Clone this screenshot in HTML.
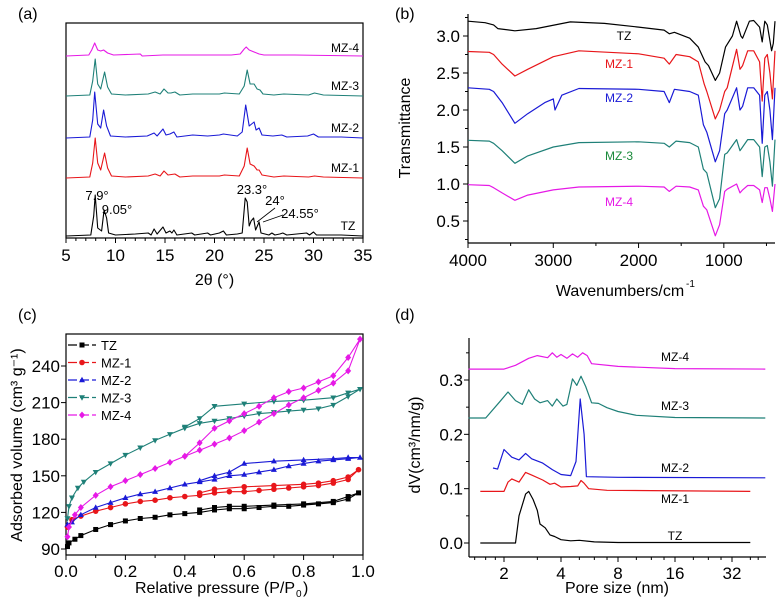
<!DOCTYPE html>
<html><head><meta charset="utf-8"><style>
html,body{margin:0;padding:0;background:#fff}
svg{display:block;font-family:"Liberation Sans",Arial,sans-serif}
</style></head><body>
<svg id="fig" width="778" height="603" viewBox="0 0 778 603"></svg>
<script>
// ---------- DATA ----------
// (a) XRD, intensities in offset units above each baseline
const xrdNames = ["TZ","MZ-1","MZ-2","MZ-3","MZ-4"];
const xrdTZ = [[5,0],[7.5,1],[7.8,20],[7.95,41],[8.2,8],[8.6,5],[8.85,26],[9.1,18],[9.3,3],[10,1],[12,2],[13.3,3],[13.6,1],[13.9,7],[14.2,2],[14.8,9],[15.1,3],[15.5,5],[15.7,3],[15.9,6],[16.2,1],[17.7,3],[18,1],[19.3,3],[19.6,1],[20.5,3],[20.9,5],[21.2,1],[22.3,2],[22.8,3],[23.1,38],[23.3,34],[23.5,10],[23.7,15],[23.95,18],[24.15,6],[24.5,14],[24.7,3],[25.5,1],[25.8,3],[26.1,1],[26.6,2],[26.9,3],[27.3,1],[29.3,3],[29.6,1],[30,4],[30.3,1],[32.8,1],[35,0]];
const xrdMZ1 = [[5,0],[7.4,1],[7.7,15],[7.95,40],[8.2,15],[8.5,8],[8.9,25],[9.2,10],[9.6,2],[11,1],[13.3,2],[14,4],[14.5,2],[14.9,7],[15.3,3],[16,4],[16.5,1],[17.8,2],[20.5,2],[21,3],[22.5,2],[23,12],[23.3,30],[23.6,14],[24,12],[24.3,8],[24.5,8],[24.8,3],[26,1],[27,2],[29.5,1],[30.1,2],[31,1],[35,0]];
const xrdMZ2 = [[5,0],[7.4,1],[7.7,18],[7.9,46],[8.2,14],[8.5,10],[8.8,28],[9.1,12],[9.5,2],[11,1],[13.2,2],[13.9,5],[14.2,2],[14.8,9],[15.1,3],[15.5,4],[15.9,6],[16.2,1],[17.8,3],[19.3,2],[20.5,3],[20.9,4],[22.3,2],[22.8,6],[23.15,33],[23.5,12],[24,16],[24.2,8],[24.5,10],[24.8,3],[25.9,2],[26.8,3],[27.3,1],[29.4,2],[30,4],[30.5,1],[32.8,1],[35,0]];
const xrdMZ3 = [[5,0],[7.4,1],[7.7,15],[7.95,37],[8.2,12],[8.5,7],[8.9,24],[9.2,9],[9.6,2],[11,1],[13.3,2],[14,4],[14.5,2],[14.9,7],[15.3,3],[15.6,3],[16,4],[16.5,1],[17.8,2],[20.5,2],[21,3],[22.5,2],[23,10],[23.3,26],[23.6,12],[24,12],[24.3,7],[24.6,6],[24.9,2],[26,1],[27,2],[29.5,1],[30.1,3],[31,1],[35,0]];
const xrdMZ4 = [[5,0],[7.3,1],[7.6,6],[7.9,13],[8.2,6],[8.5,5],[8.8,6],[9.2,3],[9.8,1],[12.5,2],[12.7,0],[14.8,1],[16,1],[21.7,1],[22.6,2],[23,7],[23.2,9],[23.5,6],[24,4],[24.5,2],[25,1],[28.1,1],[35,0]];
const xrdSeries = [xrdTZ,xrdMZ1,xrdMZ2,xrdMZ3,xrdMZ4];
const xrdOffsets = [0,58,98,140,180];
const xrdTicks = [5,10,15,20,25,30,35];

// (b) FTIR
const ftNames = ["TZ","MZ-1","MZ-2","MZ-3","MZ-4"];
const ftTZ = [[4000,3.2],[3800,3.18],[3700,3.15],[3650,3.1],[3450,3.07],[3200,3.1],[2800,3.19],[2400,3.17],[2000,3.12],[1700,3.08],[1640,3.03],[1580,3.05],[1400,2.97],[1300,2.85],[1220,2.65],[1180,2.6],[1100,2.4],[1050,2.5],[980,2.85],[900,3.0],[850,3.2],[800,3.0],[780,2.97],[700,3.2],[650,3.21],[580,3.12],[550,2.92],[520,3.2],[490,3.15],[440,2.8],[420,2.9],[400,3.2]];
const ftMZ1 = [[4000,2.79],[3750,2.78],[3700,2.75],[3600,2.62],[3450,2.46],[3300,2.55],[3000,2.72],[2700,2.8],[2000,2.76],[1700,2.7],[1640,2.62],[1560,2.75],[1400,2.72],[1300,2.65],[1230,2.35],[1200,2.25],[1100,1.88],[1050,2.0],[990,2.25],[960,2.3],[850,2.82],[810,2.55],[780,2.6],[720,2.8],[650,2.8],[580,2.65],[550,2.12],[520,2.7],[490,2.75],[460,2.5],[430,2.15],[400,2.8]];
const ftMZ2 = [[4000,2.3],[3750,2.28],[3700,2.25],[3600,2.1],[3450,1.82],[3300,1.95],[3100,2.1],[3000,2.15],[2980,2.0],[2900,2.2],[2700,2.29],[2000,2.28],[1700,2.25],[1640,2.1],[1580,2.28],[1400,2.25],[1300,2.2],[1240,1.8],[1200,1.7],[1100,1.3],[1050,1.45],[990,1.95],[960,2.0],[850,2.3],[810,2.0],[780,2.05],[720,2.3],[650,2.3],[580,2.2],[550,1.55],[520,2.2],[490,2.25],[460,2.0],[430,1.6],[400,2.3]];
const ftMZ3 = [[4000,1.59],[3750,1.58],[3700,1.55],[3600,1.45],[3450,1.28],[3300,1.38],[3000,1.5],[2700,1.56],[2000,1.57],[1700,1.55],[1640,1.5],[1560,1.58],[1400,1.56],[1300,1.5],[1240,1.2],[1200,1.15],[1100,0.68],[1050,0.8],[990,1.4],[960,1.42],[850,1.6],[810,1.45],[780,1.5],[720,1.6],[650,1.6],[580,1.5],[550,1.1],[520,1.5],[490,1.52],[460,1.3],[430,0.97],[400,1.6]];
const ftMZ4 = [[4000,0.99],[3750,0.98],[3700,0.95],[3600,0.88],[3450,0.78],[3300,0.85],[3000,0.92],[2700,0.96],[2000,0.97],[1700,0.96],[1640,0.9],[1560,0.97],[1400,0.96],[1300,0.92],[1240,0.7],[1200,0.65],[1100,0.3],[1050,0.45],[990,0.9],[960,0.93],[850,1.0],[810,0.88],[780,0.92],[720,0.98],[650,0.98],[580,0.92],[550,0.75],[520,0.95],[490,0.95],[460,0.8],[430,0.63],[400,1.0]];
const ftSeries = [ftTZ,ftMZ1,ftMZ2,ftMZ3,ftMZ4];
const ftXTicks = [4000,3000,2000,1000];
const ftYTicks = [0.5,1.0,1.5,2.0,2.5,3.0];

// (c) Isotherms (adsorption + desorption)
const isoNames = ["TZ","MZ-1","MZ-2","MZ-3","MZ-4"];
const isoTZ = [[0.005,92],[0.01,95],[0.03,98],[0.05,101],[0.1,106],[0.15,110],[0.2,113],[0.25,115],[0.3,116],[0.35,118],[0.4,119],[0.45,120],[0.5,122],[0.55,123],[0.6,123],[0.65,124],[0.7,125],[0.75,125],[0.8,126],[0.85,127],[0.9,128],[0.95,131],[0.985,136],[0.95,133],[0.9,129],[0.8,127],[0.7,126],[0.6,125],[0.55,125],[0.5,124],[0.45,122]];
const isoMZ1 = [[0.005,108],[0.02,114],[0.05,117],[0.1,121],[0.15,124],[0.2,127],[0.25,129],[0.3,130],[0.35,132],[0.4,133],[0.45,134],[0.5,136],[0.55,137],[0.6,137],[0.65,138],[0.7,139],[0.75,140],[0.8,141],[0.85,142],[0.9,144],[0.95,147],[0.985,155],[0.95,149],[0.9,146],[0.85,144],[0.8,143],[0.7,142],[0.6,141],[0.5,139],[0.45,136]];
const isoMZ2 = [[0.005,110],[0.02,112],[0.05,118],[0.1,124],[0.15,128],[0.2,132],[0.25,135],[0.3,137],[0.35,140],[0.4,143],[0.45,145],[0.5,147],[0.55,150],[0.6,151],[0.65,153],[0.7,155],[0.75,158],[0.8,160],[0.85,162],[0.9,163],[0.95,164],[0.99,165],[0.95,165],[0.9,164],[0.8,163],[0.7,162],[0.6,160],[0.55,153],[0.5,150],[0.45,146]];
const isoMZ3 = [[0.005,115],[0.01,125],[0.02,132],[0.04,140],[0.06,145],[0.1,153],[0.15,160],[0.2,167],[0.25,173],[0.3,179],[0.35,184],[0.4,189],[0.45,193],[0.5,195],[0.55,197],[0.6,199],[0.65,201],[0.7,202],[0.75,203],[0.8,204],[0.85,205],[0.9,208],[0.95,215],[0.99,221],[0.95,218],[0.9,214],[0.8,212],[0.7,211],[0.6,209],[0.5,207],[0.45,197],[0.4,190]];
const isoMZ4 = [[0.005,100],[0.01,108],[0.03,118],[0.05,124],[0.1,134],[0.15,141],[0.2,146],[0.25,151],[0.3,156],[0.35,161],[0.4,166],[0.45,171],[0.5,176],[0.55,181],[0.6,187],[0.65,194],[0.7,201],[0.75,208],[0.8,214],[0.85,220],[0.9,226],[0.95,236],[0.99,262],[0.95,247],[0.9,232],[0.85,227],[0.8,222],[0.75,219],[0.7,214],[0.65,207],[0.6,201],[0.55,195],[0.5,189],[0.45,177],[0.4,166]];
const isoSeries = [isoTZ,isoMZ1,isoMZ2,isoMZ3,isoMZ4];
const isoXTicks = [0.0,0.2,0.4,0.6,0.8,1.0];
const isoYTicks = [90,120,150,180,210,240];

// (d) Pore size distribution
const poreNames = ["TZ","MZ-1","MZ-2","MZ-3","MZ-4"];
const poreTZ = [[1.5,0],[2.3,0],[2.4,0.05],[2.6,0.09],[2.7,0.095],[2.85,0.08],[3.0,0.06],[3.1,0.035],[3.3,0.028],[3.5,0.015],[3.7,0.012],[4,0.006],[4.5,0.004],[5,0.005],[6,0.002],[8,0.001],[40,0.001]];
const poreMZ1 = [[1.5,0.095],[2,0.095],[2.1,0.112],[2.2,0.118],[2.4,0.112],[2.6,0.13],[2.8,0.125],[3.2,0.116],[3.5,0.108],[3.7,0.11],[4,0.103],[4.5,0.104],[4.9,0.105],[5.1,0.115],[5.3,0.11],[5.6,0.1],[7,0.097],[40,0.095]];
const poreMZ2 = [[1.75,0.138],[1.85,0.136],[2.0,0.172],[2.2,0.158],[2.4,0.153],[2.6,0.165],[2.8,0.155],[3.2,0.147],[3.6,0.135],[4,0.126],[4.5,0.124],[4.8,0.15],[5.05,0.265],[5.3,0.2],[5.45,0.122],[8,0.121],[48,0.12]];
const poreMZ3 = [[1.3,0.23],[1.6,0.23],[1.9,0.26],[2.1,0.278],[2.3,0.262],[2.5,0.255],[2.7,0.282],[2.9,0.265],[3.1,0.258],[3.4,0.262],[3.6,0.252],[3.8,0.265],[4.1,0.252],[4.3,0.255],[4.6,0.302],[4.85,0.29],[5.1,0.307],[5.4,0.288],[5.8,0.258],[6.3,0.257],[7,0.249],[8,0.242],[10,0.235],[16,0.231],[48,0.23]];
const poreMZ4 = [[1.3,0.32],[2,0.32],[2.3,0.327],[2.7,0.34],[3,0.345],[3.4,0.341],[3.6,0.35],[3.8,0.342],[4,0.347],[4.3,0.34],[4.6,0.348],[4.9,0.342],[5.2,0.35],[5.5,0.345],[5.8,0.33],[8,0.325],[16,0.321],[48,0.32]];
const poreSeries = [poreTZ,poreMZ1,poreMZ2,poreMZ3,poreMZ4];
const poreXTicks = [2,4,8,16,32];
const poreYTicks = [0.0,0.1,0.2,0.3];

const colors = ["#000000","#e8161a","#1a1ad6","#1f8078","#e619e6"];

// ---------- HELPERS ----------
const NS="http://www.w3.org/2000/svg";
const svg=document.getElementById('fig');
function el(tag,attrs,parent,text){const e=document.createElementNS(NS,tag);for(const k in attrs)e.setAttribute(k,attrs[k]);if(text!==undefined)e.textContent=text;(parent||svg).appendChild(e);return e;}
function lin(d0,d1,r0,r1){return v=>r0+(v-d0)*(r1-r0)/(d1-d0);}
function pathOf(pts,sx,sy){return pts.map((p,i)=>(i?'L':'M')+sx(p[0]).toFixed(1)+' '+sy(p[1]).toFixed(1)).join(' ');}
function text(x,y,s,size,anchor,fill,name,parent){const t=el('text',{x:x,y:y,'font-size':size,'text-anchor':anchor||'middle',fill:fill||'#000'},parent,s);return t;}

// ---------- PANEL A ----------
(function(){
 const g=el('g',{});
 const L=66,R=363,T=23,B=238;const sx=lin(5,35,L,R);
 text(18,19,"(a)",16,'start','#000','panel-a-label',g);
 const fr=el('rect',{x:L,y:T,width:R-L,height:B-T,fill:'none',stroke:'#000','stroke-width':1.2},g);
 
 xrdTicks.forEach(v=>{const x=sx(v);el('line',{x1:x,y1:B,x2:x,y2:B+5,stroke:'#000'},g);
  const t=text(x,B+23,String(v),17,'middle','#000','x-tick-label',g);});
 for(let v=6;v<35;v++){if(v%5){const x=sx(v);el('line',{x1:x,y1:B,x2:x,y2:B+3,stroke:'#000'},g);}}
 text((L+R)/2,285,"2θ (°)",16,'middle','#000','x-axis-title',g);
 const base0=236;
 xrdSeries.forEach((s,i)=>{const b=base0-xrdOffsets[i];const sy=v=>b-v;
  const p=el('path',{d:pathOf(s,sx,sy),fill:'none',stroke:colors[i],'stroke-width':1.1,'stroke-linejoin':'round'},g);
  });
 const lbY=[230,172,132,90,52],lbX=[348,345,345,345,345];
 xrdNames.forEach((n,i)=>text(lbX[i],lbY[i],n,12,'middle','#000','series-label-'+n.toLowerCase(),g));
 text(97,200,"7.9°",13,'middle','#000','peak-label-7-9',g);
 text(117,214,"9.05°",13,'middle','#000','peak-label-9-05',g);
 text(252,194,"23.3°",13,'middle','#000','peak-label-23-3',g);
 text(275,205,"24°",13,'middle','#000','peak-label-24',g);
 text(300,218,"24.55°",13,'middle','#000','peak-label-24-55',g);
 el('line',{x1:275,y1:208,x2:257,y2:222,stroke:'#000','stroke-width':0.8},g);
 el('line',{x1:283,y1:215,x2:263,y2:222,stroke:'#000','stroke-width':0.8},g);
})();

// ---------- PANEL B ----------
(function(){
 const g=el('g',{});
 const L=468,R=775,T=14,B=243;const sx=lin(4000,400,L,R);const sy=lin(3.0,0.5,36,221);
 text(395,19,"(b)",16,'start','#000','panel-b-label',g);
 el('line',{x1:L,y1:T,x2:L,y2:B,stroke:'#000','stroke-width':1.2},g);
 el('line',{x1:L,y1:B,x2:R,y2:B,stroke:'#000','stroke-width':1.2},g);
 ftXTicks.forEach(v=>{const x=sx(v);el('line',{x1:x,y1:B,x2:x,y2:B+5,stroke:'#000'},g);text(x,B+23,String(v),17,'middle','#000','x-tick-label',g);});
 [3500,2500,1500,500].forEach(v=>{const x=sx(v);el('line',{x1:x,y1:B,x2:x,y2:B+3,stroke:'#000'},g);});
 ftYTicks.forEach(v=>{const y=sy(v);el('line',{x1:L-5,y1:y,x2:L,y2:y,stroke:'#000'},g);text(L-8,y+6,v.toFixed(1),17,'end','#000','y-tick-label',g);});
 [0.75,1.25,1.75,2.25,2.75,3.25,0.25].forEach(v=>{const y=sy(v);el('line',{x1:L-3,y1:y,x2:L,y2:y,stroke:'#000'},g);});
 text(620,296,"Wavenumbers/cm",16,'middle','#000','x-axis-title',g);
 text(686,287,"-1",10,'start','#000','x-axis-title-exponent',g);
 const yt=text(0,0,"Transmittance",16,'middle','#000','y-axis-title',g);yt.setAttribute('transform','translate(410,128) rotate(-90)');
 ftSeries.forEach((s,i)=>{const p=el('path',{d:pathOf(s,sx,sy),fill:'none',stroke:colors[i],'stroke-width':1.2,'stroke-linejoin':'round'},g);
  });
 const lby=[40,68,102,160,206];
 ftNames.forEach((n,i)=>text(n==='TZ'?624:619,lby[i],n,12,'middle',i===3?'#1a8a3a':colors[i],'series-label-'+n.toLowerCase(),g));
})();

// ---------- PANEL C ----------
(function(){
 const g=el('g',{});
 const L=66,R=363,T=334,B=555;const sx=lin(0,1,L,R);const sy=lin(90,240,549,366);
 text(18,320,"(c)",16,'start','#000','panel-c-label',g);
 const fr=el('rect',{x:L,y:T,width:R-L,height:B-T,fill:'none',stroke:'#000','stroke-width':1.2},g);
 
 isoXTicks.forEach(v=>{const x=sx(v);el('line',{x1:x,y1:B,x2:x,y2:B+5,stroke:'#000'},g);text(x,B+22,v.toFixed(1),17,'middle','#000','x-tick-label',g);});
 [0.1,0.3,0.5,0.7,0.9].forEach(v=>{const x=sx(v);el('line',{x1:x,y1:B,x2:x,y2:B+3,stroke:'#000'},g);});
 isoYTicks.forEach(v=>{const y=sy(v);el('line',{x1:L-5,y1:y,x2:L,y2:y,stroke:'#000'},g);text(L-6,y+6,String(v),17,'end','#000','y-tick-label',g);});
 text(215,593,"Relative pressure (P/P",16,'middle','#000','x-axis-title',g);
 text(296,597,"0",10,'start','#000','x-axis-title-sub',g);
 text(303,593,")",16,'start','#000','x-axis-title-close',g);
 const yt=text(0,0,"Adsorbed volume (cm³ g⁻¹)",16,'middle','#000','y-axis-title',g);yt.setAttribute('transform','translate(22,445) rotate(-90)');
 function marker(i,x,y,parent){const c=colors[i];let m;
  if(i===0)m=el('rect',{x:x-2.5,y:y-2.5,width:5,height:5,fill:c},parent);
  else if(i===1)m=el('circle',{cx:x,cy:y,r:2.8,fill:c},parent);
  else if(i===2)m=el('polygon',{points:`${x},${y-3.2} ${x+3},${y+2.2} ${x-3},${y+2.2}`,fill:c},parent);
  else if(i===3)m=el('polygon',{points:`${x},${y+3.2} ${x+3},${y-2.2} ${x-3},${y-2.2}`,fill:c},parent);
  else m=el('polygon',{points:`${x},${y-3.5} ${x+3},${y} ${x},${y+3.5} ${x-3},${y}`,fill:c},parent);
  }
 isoSeries.forEach((s,i)=>{const sg=el('g',{},g);
  el('path',{d:pathOf(s,sx,sy),fill:'none',stroke:colors[i],'stroke-width':1.1},sg);
  s.forEach(p=>marker(i,sx(p[0]),sy(p[1]),sg));});
 const lg=el('g',{},g);
 isoNames.forEach((n,i)=>{const y=345+i*17.5;const e=el('g',{},lg);
  el('line',{x1:68,y1:y,x2:96,y2:y,stroke:colors[i],'stroke-width':1.3,'stroke-dasharray':'9,3'},e);marker(i,82,y,e);
  text(101,y+5,n,13,'start','#000','legend-text',e);});
})();

// ---------- PANEL D ----------
(function(){
 const g=el('g',{});
 const L=469,R=766,T=338,B=557;
 const sx=v=>504+57*Math.log2(v/2);const sy=lin(0,0.3,543,380);
 text(395,320,"(d)",16,'start','#000','panel-d-label',g);
 el('line',{x1:L,y1:T,x2:L,y2:B,stroke:'#000','stroke-width':1.2},g);
 el('line',{x1:L,y1:B,x2:R,y2:B,stroke:'#000','stroke-width':1.2},g);
 poreXTicks.forEach(v=>{const x=sx(v);el('line',{x1:x,y1:B,x2:x,y2:B+5,stroke:'#000'},g);text(x,B+22,String(v),17,'middle','#000','x-tick-label',g);});
 [1.4,1.6,1.8,3,5,6,7,10,12,14,20,24,28,40,44].forEach(v=>{const x=sx(v);if(x>L&&x<R)el('line',{x1:x,y1:B,x2:x,y2:B+3,stroke:'#000'},g);});
 poreYTicks.forEach(v=>{const y=sy(v);el('line',{x1:L-5,y1:y,x2:L,y2:y,stroke:'#000'},g);text(L-6,y+6,v.toFixed(1),17,'end','#000','y-tick-label',g);});
 [0.05,0.15,0.25,0.35].forEach(v=>{const y=sy(v);el('line',{x1:L-3,y1:y,x2:L,y2:y,stroke:'#000'},g);});
 text(617,593,"Pore size (nm)",16,'middle','#000','x-axis-title',g);
 const yt=text(0,0,"dV(cm³/nm/g)",16,'middle','#000','y-axis-title',g);yt.setAttribute('transform','translate(420,445) rotate(-90)');
 poreSeries.forEach((s,i)=>{const p=el('path',{d:pathOf(s,sx,sy),fill:'none',stroke:colors[i],'stroke-width':1.2,'stroke-linejoin':'round'},g);
  });
 const lby=[540,503,472,410,361],lbx=[675,675,675,675,675];
 poreNames.forEach((n,i)=>text(lbx[i],lby[i],n,12,'middle','#000','series-label-'+n.toLowerCase(),g));
})();
</script>
</body></html>
